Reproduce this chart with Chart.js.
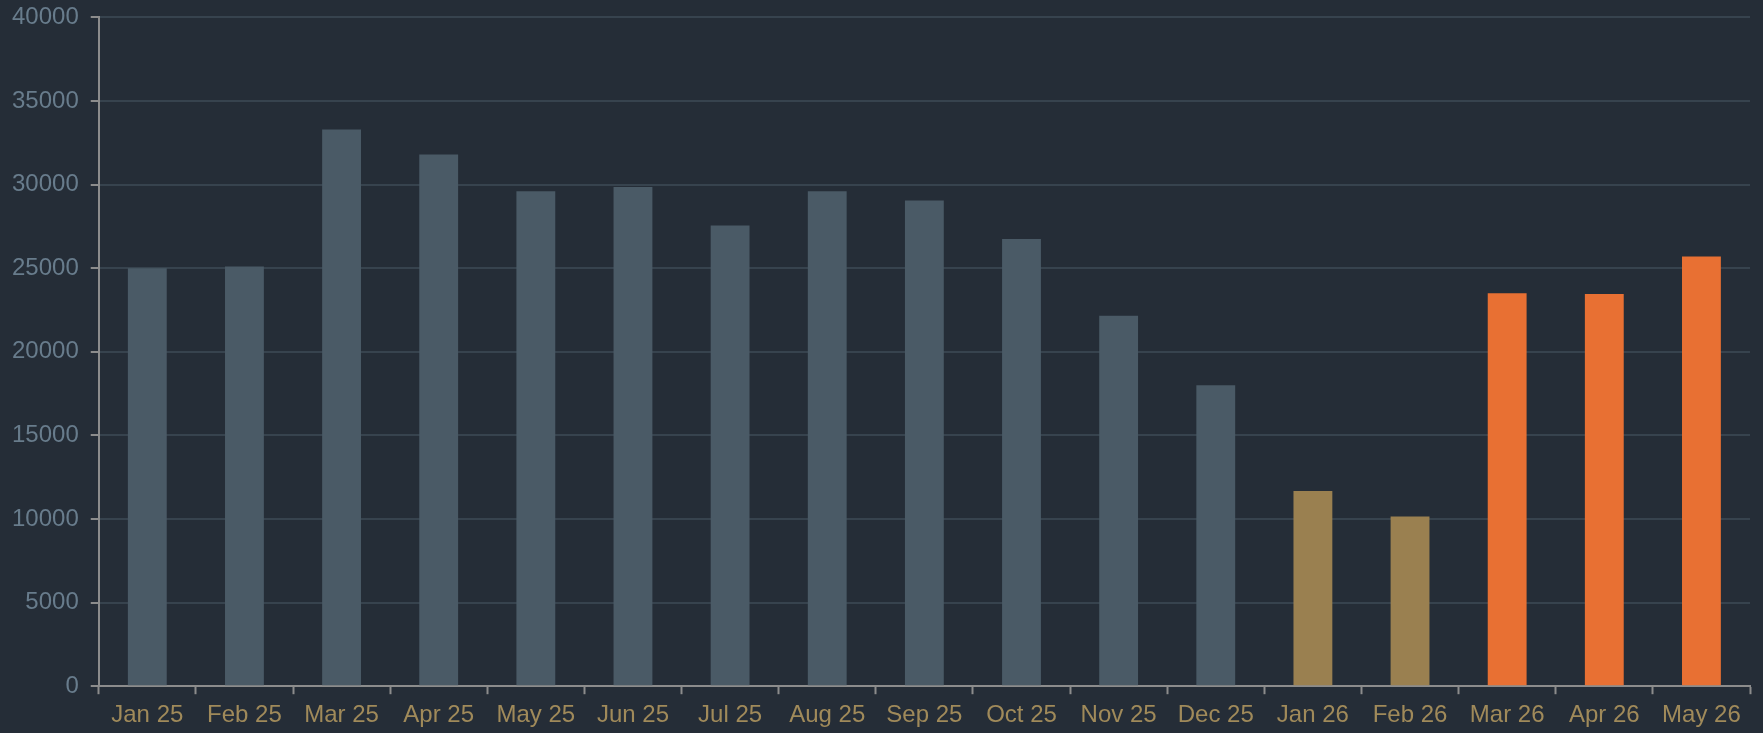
<!DOCTYPE html>
<html>
<head>
<meta charset="utf-8">
<script src="https://cdn.jsdelivr.net/npm/chart.js@4/dist/chart.umd.min.js"></script>
<style>
  html, body { margin: 0; padding: 0; background: #252d37; overflow: hidden; }
  #wrap { width: 1763px; height: 746px; margin-top: -9px; }
</style>
</head>
<body>
<div id="wrap"><canvas id="chart"></canvas></div>
<script>
// months shown on the x axis
const months = ['Jan 25', 'Feb 25', 'Mar 25', 'Apr 25', 'May 25', 'Jun 25', 'Jul 25', 'Aug 25',
    'Sep 25', 'Oct 25', 'Nov 25', 'Dec 25', 'Jan 26', 'Feb 26', 'Mar 26', 'Apr 26', 'May 26'];
// values
const values = [25000, 25100, 33300, 31800, 29600, 29850, 27550, 29600,
    29050, 26750, 22150, 18000, 11680, 10150, 23500, 23450, 25700];
// which group each bar belongs to
const groups = ['past', 'past', 'past', 'past', 'past', 'past', 'past', 'past',
    'past', 'past', 'past', 'past', 'recent', 'recent', 'forecast', 'forecast', 'forecast'];
const yTicks = [0, 5000, 10000, 15000, 20000, 25000, 30000, 35000, 40000];

const groupColors = { past: '#4a5a66', recent: '#9a8050', forecast: '#e87033' };

document.addEventListener('DOMContentLoaded', () => {
    const ctx = document.getElementById('chart').getContext('2d');
    new Chart(ctx, {
        type: 'bar',
        data: {
            labels: months,
            datasets: [{
                data: values,
                backgroundColor: groups.map(g => groupColors[g]),
                borderWidth: 0,
                categoryPercentage: 0.8,
                barPercentage: 0.5
            }]
        },
        options: {
            responsive: true,
            maintainAspectRatio: false,
            animation: false,
            layout: { padding: { top: 0, right: 13, left: 0, bottom: 0 } },
            plugins: {
                legend: { display: false },
                tooltip: { enabled: false }
            },
            scales: {
                x: {
                    grid: {
                        drawOnChartArea: false,
                        tickColor: '#8c8c8c',
                        tickWidth: 2,
                        tickLength: 8
                    },
                    border: { color: '#8c8c8c', width: 2 },
                    ticks: {
                        color: '#a08a5a',
                        font: { family: 'Liberation Sans, Arial, sans-serif', size: 24 },
                        maxRotation: 0,
                        autoSkip: false,
                        padding: 7
                    }
                },
                y: {
                    min: 0,
                    max: 40000,
                    afterBuildTicks: axis => { axis.ticks = yTicks.map(v => ({ value: v })); },
                    grid: {
                        color: '#37434e',
                        lineWidth: 2,
                        tickColor: '#8c8c8c',
                        tickWidth: 2,
                        tickLength: 8
                    },
                    border: { color: '#8c8c8c', width: 2 },
                    ticks: {
                        color: '#687c8c',
                        font: { family: 'Liberation Sans, Arial, sans-serif', size: 24 },
                        padding: 12,
                        callback: v => String(v)
                    }
                }
            }
        }
    });
});
</script>
</body>
</html>
